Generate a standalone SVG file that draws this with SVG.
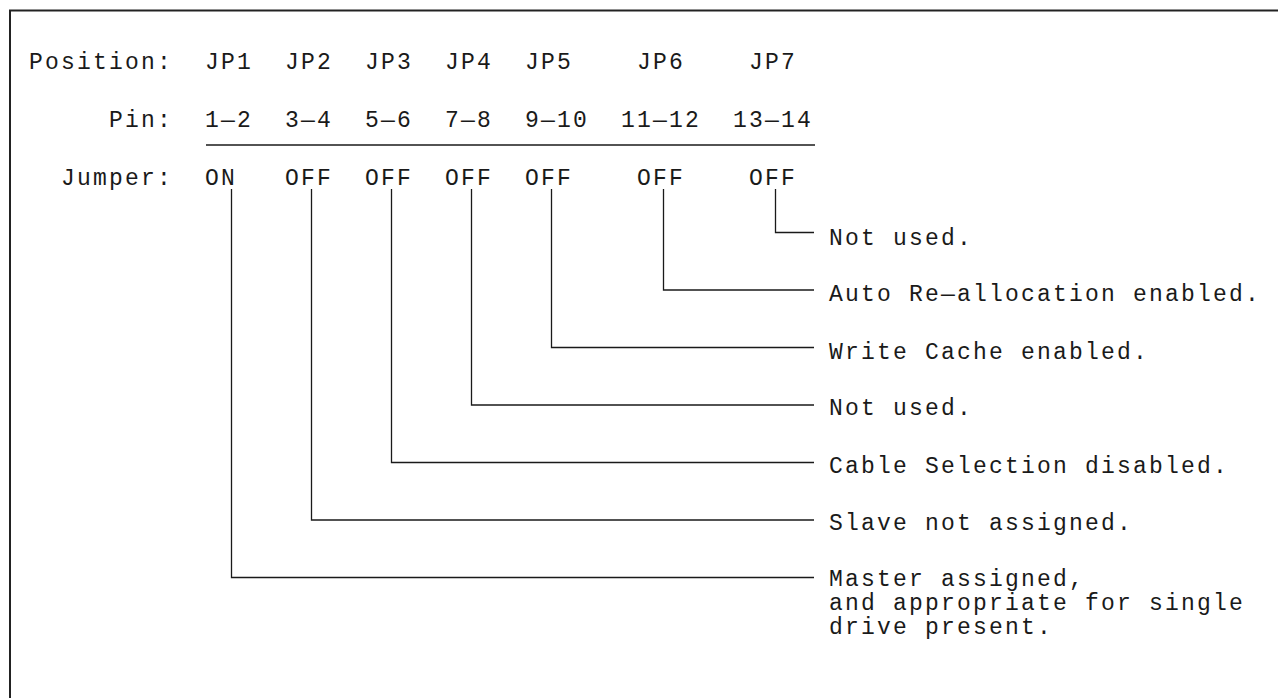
<svg xmlns="http://www.w3.org/2000/svg" width="1278" height="698" viewBox="0 0 1278 698">
  <style>
    .t { font-family: "Liberation Mono", "DejaVu Sans Mono", monospace; font-size: 23px; letter-spacing: 2.2px; fill: #1a1a1a; }
    .c { fill: none; stroke: #1a1a1a; stroke-width: 1.3; }
    .frame { fill: none; stroke: #222; stroke-width: 2; }
  </style>
  <rect width="1278" height="698" fill="#ffffff"/>
  <path class="frame" d="M10,700 V10.5 H1280"/>

  <g id="header">
    <text class="t" x="29" y="69">Position:</text>
    <text class="t" x="205" y="69">JP1</text>
    <text class="t" x="285" y="69">JP2</text>
    <text class="t" x="365" y="69">JP3</text>
    <text class="t" x="445" y="69">JP4</text>
    <text class="t" x="525" y="69">JP5</text>
    <text class="t" x="637" y="69">JP6</text>
    <text class="t" x="749" y="69">JP7</text>

    <text class="t" x="109" y="127">Pin:</text>
    <text class="t" x="205" y="127">1—2</text>
    <text class="t" x="285" y="127">3—4</text>
    <text class="t" x="365" y="127">5—6</text>
    <text class="t" x="445" y="127">7—8</text>
    <text class="t" x="525" y="127">9—10</text>
    <text class="t" x="621" y="127">11—12</text>
    <text class="t" x="733" y="127">13—14</text>

    <line class="c" x1="206" y1="145" x2="815" y2="145"/>

    <text class="t" x="61" y="185">Jumper:</text>
    <text class="t" x="205" y="185">ON</text>
    <text class="t" x="285" y="185">OFF</text>
    <text class="t" x="365" y="185">OFF</text>
    <text class="t" x="445" y="185">OFF</text>
    <text class="t" x="525" y="185">OFF</text>
    <text class="t" x="637" y="185">OFF</text>
    <text class="t" x="749" y="185">OFF</text>
  </g>

  <g id="connectors">
    <path class="c" d="M775.5,189 V232.5 H814"/>
    <path class="c" d="M663.5,189 V290 H814"/>
    <path class="c" d="M551.5,189 V347.5 H814"/>
    <path class="c" d="M471.5,189 V405 H814"/>
    <path class="c" d="M391.5,189 V462.5 H814"/>
    <path class="c" d="M311.5,189 V520 H814"/>
    <path class="c" d="M231.5,189 V577.5 H814"/>
  </g>

  <g id="label-jp7"><text class="t" x="829" y="245">Not used.</text></g>
  <g id="label-jp6"><text class="t" x="829" y="301">Auto Re—allocation enabled.</text></g>
  <g id="label-jp5"><text class="t" x="829" y="359">Write Cache enabled.</text></g>
  <g id="label-jp4"><text class="t" x="829" y="415">Not used.</text></g>
  <g id="label-jp3"><text class="t" x="829" y="473">Cable Selection disabled.</text></g>
  <g id="label-jp2"><text class="t" x="829" y="530">Slave not assigned.</text></g>
  <g id="label-jp1">
    <text class="t" x="829" y="586">Master assigned,</text>
    <text class="t" x="829" y="610">and appropriate for single</text>
    <text class="t" x="829" y="634">drive present.</text>
  </g>
</svg>
